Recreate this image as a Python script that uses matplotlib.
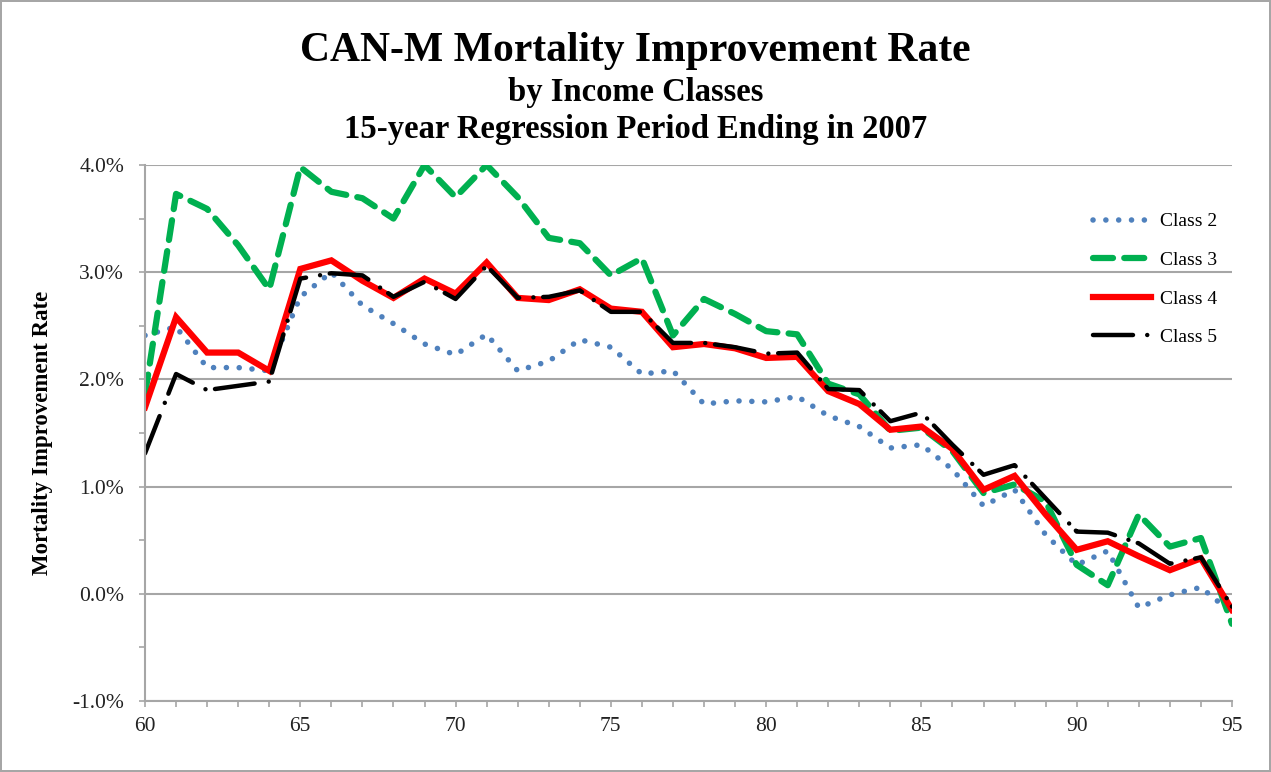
import matplotlib.pyplot as plt
from matplotlib.ticker import MultipleLocator, FuncFormatter

plt.rcParams['font.family'] = ['Liberation Serif', 'DejaVu Serif']

ages = list(range(60, 96))

# mortality improvement rate, % per year
class2 = [2.41, 2.49, 2.11, 2.11, 2.08, 2.77, 3.00, 2.69, 2.52, 2.33,
          2.23, 2.42, 2.08, 2.17, 2.37, 2.30, 2.05, 2.08, 1.77, 1.80,
          1.79, 1.84, 1.66, 1.56, 1.36, 1.39, 1.16, 0.82, 0.97, 0.55,
          0.27, 0.40, -0.13, -0.01, 0.06, -0.18]
class3 = [1.86, 3.73, 3.59, 3.25, 2.84, 3.98, 3.75, 3.69, 3.50, 4.00,
          3.70, 4.00, 3.70, 3.32, 3.27, 2.97, 3.13, 2.41, 2.75, 2.61,
          2.45, 2.42, 1.96, 1.86, 1.52, 1.55, 1.33, 0.94, 1.02, 0.86,
          0.27, 0.08, 0.74, 0.44, 0.52, -0.28]
class4 = [1.74, 2.58, 2.25, 2.25, 2.08, 3.03, 3.11, 2.92, 2.76, 2.94,
          2.80, 3.09, 2.76, 2.74, 2.84, 2.66, 2.63, 2.30, 2.33, 2.29,
          2.20, 2.21, 1.89, 1.77, 1.53, 1.56, 1.35, 0.97, 1.10, 0.74,
          0.41, 0.49, 0.35, 0.22, 0.33, -0.15]
class5 = [1.31, 2.05, 1.90, 1.94, 1.98, 2.94, 2.99, 2.97, 2.77, 2.91,
          2.75, 3.06, 2.76, 2.77, 2.83, 2.63, 2.63, 2.34, 2.34, 2.30,
          2.24, 2.25, 1.91, 1.90, 1.61, 1.69, 1.39, 1.11, 1.20, 0.89,
          0.58, 0.57, 0.47, 0.28, 0.34, -0.12]

fig = plt.figure(figsize=(12.71, 7.72), dpi=100)
fig.patch.set_edgecolor('#a6a6a6')
fig.patch.set_linewidth(1.5)
ax = fig.add_axes([0.1141, 0.0920, 0.8552, 0.6943])

ax.plot(ages, class2, color='#4f81bd', lw=4.0, linestyle=(0, (0.01, 2.3)),
        dash_capstyle='round', label='Class 2')
ax.plot(ages, class3, color='#00b050', lw=4.5, linestyle=(0, (3.2, 1.8)),
        dash_capstyle='round', label='Class 3')
ax.plot(ages, class4, color='#ff0000', lw=4.5, solid_joinstyle='miter',
        label='Class 4')
ax.plot(ages, class5, color='black', lw=3.2, linestyle=(0, (9, 3.2, 0.01, 2.2)),
        dash_capstyle='round', label='Class 5')

ax.set_xlim(60, 95)
ax.set_ylim(-1, 4)
ax.yaxis.set_major_locator(MultipleLocator(1))
ax.yaxis.set_minor_locator(MultipleLocator(0.5))
ax.yaxis.set_major_formatter(FuncFormatter(lambda v, p: f'{v:.1f}%'))
ax.xaxis.set_major_locator(MultipleLocator(5))
ax.xaxis.set_minor_locator(MultipleLocator(1))
ax.grid(axis='y', which='major', color='#a6a6a6', lw=1.5)
ax.set_axisbelow(True)

for s in ['top', 'right']:
    ax.spines[s].set_visible(False)
for s in ['left', 'bottom']:
    ax.spines[s].set_color('#a6a6a6')
    ax.spines[s].set_linewidth(1.5)
ax.tick_params(which='both', color='#a6a6a6', width=1.2, labelsize=15.5,
               labelcolor='#222222')
ax.tick_params(axis='y', which='both', length=4, pad=11)
ax.tick_params(axis='x', which='both', length=4.5, pad=7)

ax.set_ylabel('Mortality Improvement Rate', fontsize=16.5, fontweight='bold')
ax.yaxis.set_label_coords(-0.085, 0.5)

fig.text(0.5, 1 - 61 / 772, 'CAN-M Mortality Improvement Rate', ha='center',
         va='baseline', fontsize=30, fontweight='bold')
fig.text(0.5, 1 - 101 / 772, 'by Income Classes', ha='center', va='baseline',
         fontsize=23.5, fontweight='bold')
fig.text(0.5, 1 - 138 / 772, '15-year Regression Period Ending in 2007',
         ha='center', va='baseline', fontsize=23.5, fontweight='bold')

ax.legend(loc='upper left', bbox_to_anchor=(1083 / 1271, 1 - 203 / 772),
          bbox_transform=fig.transFigure, frameon=False, fontsize=14,
          handlelength=3.0, handletextpad=0.45, labelspacing=1.08, borderpad=0)

fig.savefig('out.png', dpi=100, edgecolor=fig.get_edgecolor())
